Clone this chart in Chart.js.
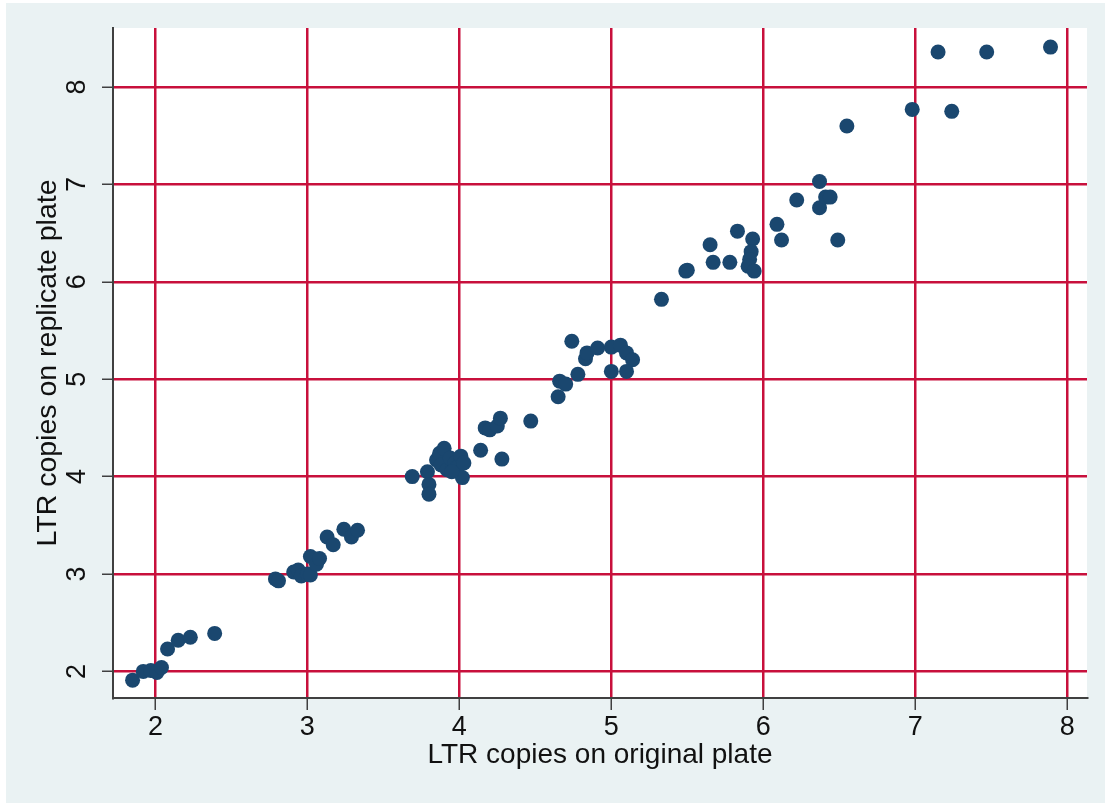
<!DOCTYPE html>
<html>
<head>
<meta charset="utf-8">
<script src="https://cdn.jsdelivr.net/npm/chart.js@4.4.1/dist/chart.umd.min.js"></script>
<style>
  html, body { margin: 0; padding: 0; background: #ffffff; }
  #wrap { width: 1105px; height: 803px; position: relative; }
</style>
</head>
<body>
<div id="wrap"><canvas id="scatter"></canvas></div>
<script>
// LTR copies, original plate (x) vs replicate plate (y)
const xOriginal = [
  1.85, 1.92, 1.97, 2.01, 2.04, 2.08, 2.15, 2.23, 2.39,
  2.79, 2.81, 2.91, 2.94, 2.96, 3.00, 3.02, 3.02, 3.06, 3.08, 3.13, 3.17, 3.24, 3.29, 3.33,
  3.69, 3.79, 3.80, 3.80, 3.85, 3.87, 3.90, 3.88, 3.92, 3.94, 3.97, 3.99, 4.01, 4.03, 4.02, 3.95,
  4.14, 4.17, 4.20, 4.25, 4.27, 4.28, 4.47,
  4.65, 4.66, 4.70, 4.74, 4.78, 4.83, 4.84, 4.91, 5.00, 5.06, 5.10, 5.14, 5.00, 5.10,
  5.33, 5.49, 5.50, 5.65, 5.67, 5.78, 5.83, 5.93, 5.92, 5.91, 5.90, 5.94, 6.09, 6.12, 6.22,
  6.37, 6.37, 6.41, 6.44, 6.49, 6.55,
  6.98, 7.24, 7.15, 7.47, 7.89
];
const yReplicate = [
  1.91, 2.00, 2.01, 1.99, 2.04, 2.23, 2.32, 2.35, 2.39,
  2.95, 2.93, 3.02, 3.04, 2.98, 3.00, 2.99, 3.18, 3.10, 3.16, 3.38, 3.30, 3.46, 3.38, 3.45,
  4.00, 4.05, 3.92, 3.82, 4.17, 4.24, 4.29, 4.12, 4.07, 4.19, 4.14, 4.10, 4.21, 4.14, 3.99, 4.05,
  4.27, 4.50, 4.48, 4.52, 4.60, 4.18, 4.57,
  4.82, 4.98, 4.95, 5.39, 5.05, 5.21, 5.27, 5.32, 5.33, 5.35, 5.27, 5.20, 5.08, 5.08,
  5.82, 6.11, 6.12, 6.38, 6.20, 6.20, 6.52, 6.44, 6.31, 6.23, 6.16, 6.11, 6.59, 6.43, 6.84,
  7.03, 6.76, 6.87, 6.87, 6.43, 7.60,
  7.77, 7.75, 8.36, 8.36, 8.41
];
const xTicks = [2, 3, 4, 5, 6, 7, 8];
const yTicks = [2, 3, 4, 5, 6, 7, 8];

const BG = '#eaf2f3';
const GRID = '#c8103c';
const NAVY = '#1a476f';
const INK = '#111111';
const FONT = '"Liberation Sans", Arial, sans-serif';
const FONT_SIZE = 27;

const points = xOriginal.map((x, i) => ({ x, y: yReplicate[i] }));

// outer graph region + white plot region
const backdrop = {
  id: 'backdrop',
  beforeDraw(chart) {
    const { ctx, chartArea: a } = chart;
    ctx.save();
    ctx.fillStyle = BG;
    ctx.fillRect(6, 3, chart.width - 6, chart.height - 3);
    ctx.fillStyle = '#ffffff';
    ctx.fillRect(a.left, a.top, a.right - a.left, a.bottom - a.top);
    ctx.restore();
  },
};

// y tick labels are vertical, like in Stata
const verticalYTicks = {
  id: 'verticalYTicks',
  afterDraw(chart) {
    const { ctx } = chart;
    const y = chart.scales.y;
    ctx.save();
    ctx.fillStyle = INK;
    ctx.font = `${FONT_SIZE}px ${FONT}`;
    ctx.textAlign = 'center';
    ctx.textBaseline = 'middle';
    yTicks.forEach((v) => {
      ctx.save();
      ctx.translate(78, y.getPixelForValue(v));
      ctx.rotate(-Math.PI / 2);
      ctx.fillText(String(v), 0, 0);
      ctx.restore();
    });
    ctx.restore();
  },
};

new Chart(document.getElementById('scatter'), {
  type: 'scatter',
  data: {
    datasets: [
      {
        label: 'LTR copies',
        data: points,
        backgroundColor: NAVY,
        borderWidth: 0,
        pointRadius: 7.5,
        pointHoverRadius: 7.5,
      },
    ],
  },
  options: {
    responsive: true,
    maintainAspectRatio: false,
    animation: false,
    layout: { padding: { top: 28, right: 18, bottom: 0, left: 0 } },
    plugins: {
      legend: { display: false },
      tooltip: { enabled: false },
    },
    scales: {
      x: {
        type: 'linear',
        min: 1.721,
        max: 8.13,
        afterBuildTicks: (scale) => {
          scale.ticks = xTicks.map((value) => ({ value }));
        },
        afterFit: (scale) => {
          scale.height = 105;
        },
        ticks: {
          includeBounds: false,
          padding: 1,
          color: INK,
          font: { family: FONT, size: FONT_SIZE },
          maxRotation: 0,
        },
        grid: {
          color: GRID,
          lineWidth: 2.5,
          tickColor: '#404040',
          tickLength: 12,
          tickWidth: 1.5,
        },
        border: { display: true, color: '#404040', width: 2 },
        title: {
          display: true,
          text: 'LTR copies on original plate',
          color: INK,
          font: { family: FONT, size: 28 },
          padding: { top: 0, bottom: 31 },
        },
      },
      y: {
        type: 'linear',
        min: 1.727,
        max: 8.606,
        afterBuildTicks: (scale) => {
          scale.ticks = yTicks.map((value) => ({ value }));
        },
        afterFit: (scale) => {
          scale.width = 113;
        },
        ticks: {
          includeBounds: false,
          display: false,
        },
        grid: {
          color: GRID,
          lineWidth: 2.5,
          tickColor: '#404040',
          tickLength: 11,
          tickWidth: 1.5,
        },
        border: { display: true, color: '#404040', width: 2 },
        title: {
          display: true,
          text: 'LTR copies on replicate plate',
          color: INK,
          font: { family: FONT, size: 28.5 },
          padding: { top: 31, bottom: 0 },
        },
      },
    },
  },
  plugins: [backdrop, verticalYTicks],
});
</script>
</body>
</html>
